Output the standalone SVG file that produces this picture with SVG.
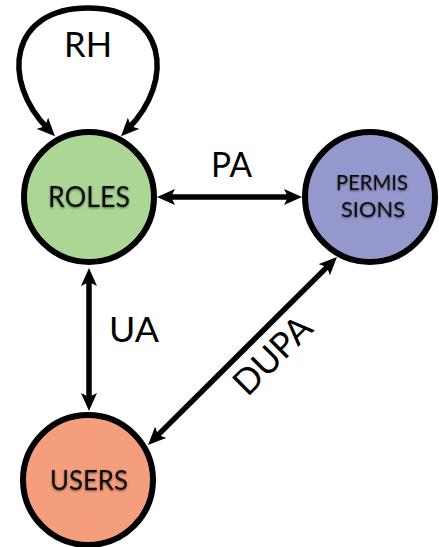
<svg xmlns="http://www.w3.org/2000/svg" width="439" height="547" viewBox="0 0 439 547">
  <defs>
    <style>
      .node { stroke: #000; stroke-width: 6; }
      .edge { fill: none; stroke: #000; stroke-width: 5.5; marker-start: url(#head); marker-end: url(#head); }
      .nlabel { font-family: Lato, "Open Sans", sans-serif; fill: #111; text-anchor: middle; filter: url(#soft); }
      .elabel { font-family: Lato, "Open Sans", sans-serif; font-size: 35px; fill: #000; }
    </style>
    <marker id="head" viewBox="0 0 18 16" refX="8" refY="8" markerWidth="18" markerHeight="16" markerUnits="userSpaceOnUse" orient="auto-start-reverse">
      <path d="M0,0 L18,8 L0,16 L4,8 z" fill="#000"/>
    </marker>
    <filter id="soft" x="-20%" y="-40%" width="140%" height="180%">
      <feDropShadow dx="0" dy="1" stdDeviation="1.2" flood-color="#000" flood-opacity="0.55"/>
    </filter>
  </defs>

  <g id="connectors">
    <!-- role hierarchy self-loop -->
    <path class="edge" d="M 48 129 C 0 80, 10 8, 88 8 C 166 8, 176 80, 128 129"/>
    <!-- PA -->
    <line class="edge" x1="167" y1="197" x2="292" y2="197"/>
    <!-- UA -->
    <line class="edge" x1="89" y1="278" x2="89" y2="401"/>
    <!-- DUPA -->
    <line class="edge" x1="155.1" y1="437.9" x2="329.9" y2="264.1"/>
    <text class="elabel" x="64" y="57" textLength="48" lengthAdjust="spacingAndGlyphs">RH</text>
    <text class="elabel" x="211" y="177" textLength="41" lengthAdjust="spacingAndGlyphs">PA</text>
    <text class="elabel" x="109" y="342" textLength="50" lengthAdjust="spacingAndGlyphs">UA</text>
    <text class="elabel" x="281" y="364" text-anchor="middle" transform="rotate(-45 281 364)" textLength="95" lengthAdjust="spacingAndGlyphs">DUPA</text>
  </g>

  <g id="roles">
    <circle class="node" cx="89" cy="197" r="65" fill="#acd696"/>
    <text class="nlabel" x="89" y="207" font-size="28" textLength="82" lengthAdjust="spacingAndGlyphs">ROLES</text>
  </g>

  <g id="permissions">
    <circle class="node" cx="370" cy="197" r="65" fill="#9598cc"/>
    <text class="nlabel" x="372" y="190" font-size="21" textLength="72" lengthAdjust="spacingAndGlyphs">PERMIS</text>
    <text class="nlabel" x="373" y="217" font-size="21" textLength="64" lengthAdjust="spacingAndGlyphs">SIONS</text>
  </g>

  <g id="users">
    <circle class="node" cx="88" cy="480" r="65" fill="#f49e7d"/>
    <text class="nlabel" x="89" y="490" font-size="27" textLength="78" lengthAdjust="spacingAndGlyphs">USERS</text>
  </g>
</svg>
